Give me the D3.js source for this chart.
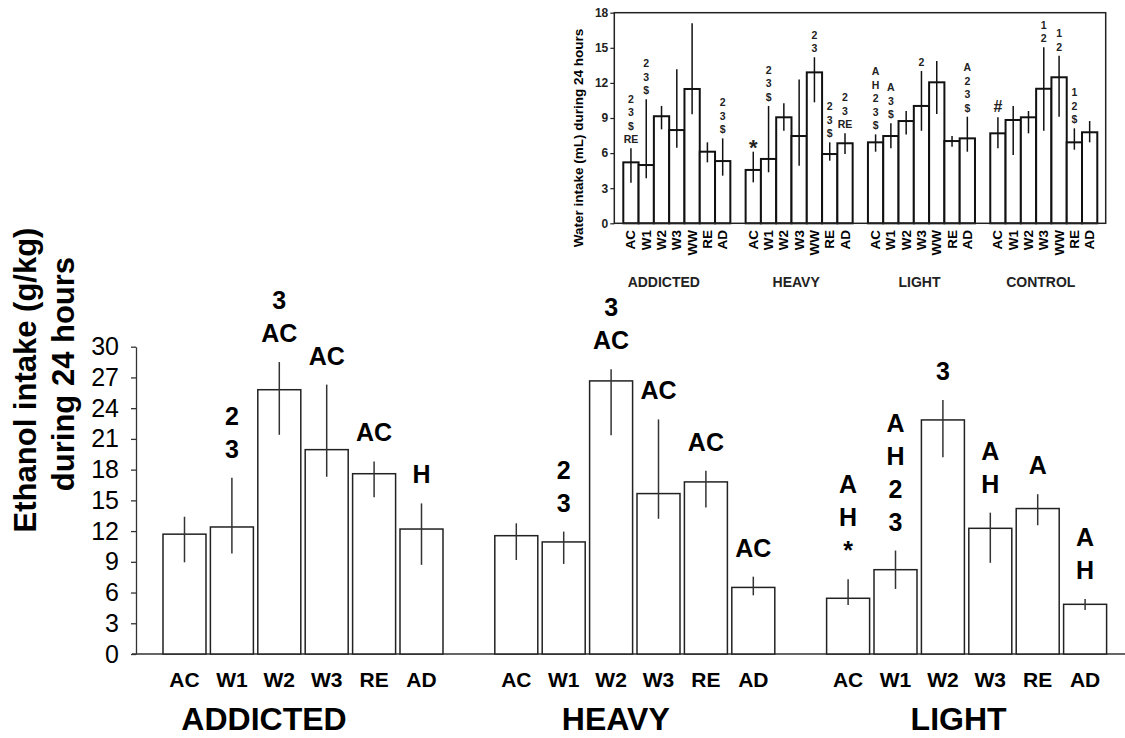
<!DOCTYPE html>
<html>
<head>
<meta charset="utf-8">
<script src="https://cdnjs.cloudflare.com/ajax/libs/d3/7.8.5/d3.min.js"></script>
<style>
    body {
        margin: 0;
        background: #fff;
    }

    svg text {
        font-family: "Liberation Sans", Arial, sans-serif;
        fill: #000;
    }

    .bar {
        fill: #fff;
        stroke: #222;
        stroke-width: 1.5px;
    }

    .err {
        stroke: #333;
        stroke-width: 1.5px;
    }

    .inset .bar {
        stroke: #111;
        stroke-width: 2px;
    }

    .inset .err {
        stroke: #111;
        stroke-width: 1.5px;
    }
</style>
</head>
<body>
<svg id="chart" width="1125" height="738"></svg>
<script>
    // ---- main chart: ethanol intake ----
    var groups = ["ADDICTED", "HEAVY", "LIGHT"];
    var phases = ["AC", "W1", "W2", "W3", "RE", "AD"];
    var ethanolMean = [
        [11.7, 12.4, 25.8, 19.95, 17.6, 12.2],
        [11.55, 10.94, 26.66, 15.66, 16.8, 6.5],
        [5.44, 8.23, 22.85, 12.27, 14.2, 4.85]
    ];
    var ethanolHigh = [
        [13.4, 17.2, 28.5, 26.3, 18.8, 14.7],
        [12.76, 11.95, 27.8, 22.9, 17.9, 7.55],
        [7.3, 10.1, 24.8, 13.8, 15.6, 5.37]
    ];
    var ethanolLow = [
        [8.95, 9.8, 21.4, 17.3, 15.3, 8.7],
        [9.18, 8.79, 21.36, 13.2, 14.3, 5.73],
        [4.79, 6.35, 19.2, 8.9, 12.57, 4.3]
    ];
    var ethanolMarks = [
        [[], ["2", "3"], ["3", "AC"], ["AC"], ["AC"], ["H"]],
        [[], ["2", "3"], ["3", "AC"], ["AC"], ["AC"], ["AC"]],
        [["A", "H", "*"], ["A", "H", "2", "3"], ["3"], ["A", "H"], ["A"], ["A", "H"]]
    ];
    var ethanolTicks = [0, 3, 6, 9, 12, 15, 18, 21, 24, 27, 30];

    // ---- inset: water intake ----
    var waterGroups = ["ADDICTED", "HEAVY", "LIGHT", "CONTROL"];
    var waterPhases = ["AC", "W1", "W2", "W3", "WW", "RE", "AD"];
    var waterMean = [
        [5.21, 4.98, 9.15, 7.97, 11.48, 6.12, 5.32],
        [4.56, 5.5, 9.06, 7.46, 12.9, 5.92, 6.84],
        [6.92, 7.46, 8.74, 10.03, 12.05, 7.03, 7.26],
        [7.69, 8.83, 9.06, 11.5, 12.48, 6.92, 7.78]
    ];
    var waterHigh = [
        [6.41, 10.6, 10.03, 13.16, 17.1, 6.92, 7.26],
        [6.12, 10.03, 10.26, 12.3, 14.19, 6.92, 7.69],
        [7.6, 8.55, 9.6, 13.02, 13.87, 7.46, 9.11],
        [9.06, 10.03, 9.6, 15.04, 14.33, 8.12, 8.74]
    ];
    var waterLow = [
        [3.47, 3.85, 8.03, 6.46, 9.32, 5.21, 4.07],
        [3.5, 4.36, 7.91, 4.92, 10.34, 5.35, 5.92],
        [6.12, 6.41, 7.6, 7.91, 9.34, 6.55, 6.12],
        [6.41, 5.84, 7.69, 7.91, 9.11, 6.29, 6.92]
    ];
    var waterMarks = [
        [["2", "3", "$", "RE"], ["2", "3", "$"], [], [], [], [], ["2", "3", "$"]],
        [["*"], ["2", "3", "$"], [], [], ["2", "3"], ["2", "3", "$"], ["2", "3", "RE"]],
        [["A", "H", "2", "3", "$"], ["A", "3", "$"], [], ["2"], [], [], ["A", "2", "3", "$"]],
        [["#"], [], [], ["1", "2"], ["1", "2"], ["1", "2", "$"], []]
    ];
    var waterTicks = [0, 3, 6, 9, 12, 15, 18];

    var svg = d3.select("#chart");

    // flatten groups x phases into one row per bar, with a spacer slot between groups
    function buildRows(gs, ps, mean, high, low, marks) {
        var rows = [], keys = [];
        gs.forEach(function (g, gi) {
            if (gi > 0) keys.push("gap" + gi);
            ps.forEach(function (p, pi) {
                var key = g + "|" + p;
                keys.push(key);
                rows.push({ key: key, group: g, gi: gi, phase: p, v: mean[gi][pi], hi: high[gi][pi], lo: low[gi][pi], marks: marks[gi][pi] });
            });
        });
        return { rows: rows, keys: keys };
    }

    // ================= main chart =================
    var main = buildRows(groups, phases, ethanolMean, ethanolHigh, ethanolLow, ethanolMarks);

    var x = d3.scaleBand()
        .domain(main.keys)
        .range([163, 1106.6])
        .paddingInner(0.093)
        .paddingOuter(0);

    var y = d3.scaleLinear().domain([0, 30]).range([654, 346.7]);

    var g = svg.append("g").attr("class", "main");

    // y axis
    var yAxis = g.append("g")
        .attr("transform", "translate(136,0)")
        .call(d3.axisLeft(y).tickValues(ethanolTicks).tickSize(5).tickSizeOuter(0).tickPadding(12));
    yAxis.selectAll("text").style("font-size", "25px").style("fill", "#000");
    yAxis.selectAll("line, path").style("stroke", "#333").style("stroke-width", "1.3px");

    // baseline
    g.append("line")
        .attr("x1", 132).attr("x2", 1125)
        .attr("y1", y(0)).attr("y2", y(0))
        .style("stroke", "#333").style("stroke-width", "1.5px");

    // bars
    g.selectAll("rect.bar")
        .data(main.rows)
        .enter().append("rect")
        .attr("class", "bar")
        .attr("x", function (d) { return x(d.key); })
        .attr("y", function (d) { return y(d.v); })
        .attr("width", x.bandwidth())
        .attr("height", function (d) { return y(0) - y(d.v); });

    // error bars
    g.selectAll("line.err")
        .data(main.rows)
        .enter().append("line")
        .attr("class", "err")
        .attr("x1", function (d) { return x(d.key) + x.bandwidth() / 2; })
        .attr("x2", function (d) { return x(d.key) + x.bandwidth() / 2; })
        .attr("y1", function (d) { return y(d.hi); })
        .attr("y2", function (d) { return y(d.lo); });

    // significance marks, stacked upward from the error bar top
    var mainStep = 33, mainGap = 20;
    main.rows.forEach(function (d) {
        var n = d.marks.length;
        d.marks.forEach(function (m, i) {
            g.append("text")
                .attr("x", x(d.key) + x.bandwidth() / 2)
                .attr("y", y(d.hi) - mainGap - (n - 1 - i) * mainStep)
                .attr("text-anchor", "middle")
                .style("font-size", "25px")
                .style("font-weight", "bold")
                .text(m);
        });
    });

    // category labels
    g.selectAll("text.cat")
        .data(main.rows)
        .enter().append("text")
        .attr("class", "cat")
        .attr("x", function (d) { return x(d.key) + x.bandwidth() / 2; })
        .attr("y", 687)
        .attr("text-anchor", "middle")
        .style("font-size", "21px")
        .style("font-weight", "bold")
        .text(function (d) { return d.phase; });

    // group labels
    var mainGroupDx = [-39, -19, -8];
    groups.forEach(function (grp, gi) {
        var x0 = x(grp + "|" + phases[0]);
        var x1 = x(grp + "|" + phases[phases.length - 1]) + x.bandwidth();
        g.append("text")
            .attr("x", (x0 + x1) / 2 + mainGroupDx[gi])
            .attr("y", 730)
            .attr("text-anchor", "middle")
            .style("font-size", "32px")
            .style("font-weight", "bold")
            .text(grp);
    });

    // y title
    g.append("text")
        .attr("transform", "translate(36,380) rotate(-90)")
        .attr("text-anchor", "middle")
        .style("font-size", "31px")
        .style("font-weight", "bold")
        .text("Ethanol intake (g/kg)");
    g.append("text")
        .attr("transform", "translate(74,374) rotate(-90)")
        .attr("text-anchor", "middle")
        .style("font-size", "31px")
        .style("font-weight", "bold")
        .text("during 24 hours");

    // ================= inset =================
    var ins = buildRows(waterGroups, waterPhases, waterMean, waterHigh, waterLow, waterMarks);

    var xi = d3.scaleBand()
        .domain(ins.keys)
        .range([623.3, 1097.3])
        .padding(0);

    var yi = d3.scaleLinear().domain([0, 18]).range([223.3, 12.7]);

    var gi = svg.append("g").attr("class", "inset");

    var yiAxis = gi.append("g")
        .attr("transform", "translate(614.3,0)")
        .call(d3.axisLeft(yi).tickValues(waterTicks).tickSize(4).tickSizeOuter(0).tickPadding(2));
    yiAxis.select("path.domain").remove();
    yiAxis.selectAll("text").style("font-size", "12px").style("font-weight", "bold").style("fill", "#222");
    yiAxis.selectAll("line").style("stroke", "#222").style("stroke-width", "1.2px");

    gi.selectAll("rect.bar")
        .data(ins.rows)
        .enter().append("rect")
        .attr("class", "bar")
        .attr("x", function (d) { return xi(d.key); })
        .attr("y", function (d) { return yi(d.v); })
        .attr("width", xi.bandwidth())
        .attr("height", function (d) { return yi(0) - yi(d.v); });

    gi.selectAll("line.err")
        .data(ins.rows)
        .enter().append("line")
        .attr("class", "err")
        .attr("x1", function (d) { return xi(d.key) + xi.bandwidth() / 2; })
        .attr("x2", function (d) { return xi(d.key) + xi.bandwidth() / 2; })
        .attr("y1", function (d) { return yi(d.hi); })
        .attr("y2", function (d) { return yi(d.lo); });

    // frame
    gi.append("rect")
        .attr("x", 614.3).attr("y", yi(18))
        .attr("width", 1105.7 - 614.3).attr("height", yi(0) - yi(18))
        .style("fill", "none").style("stroke", "#222").style("stroke-width", "1.5px");

    var insStep = 13.5, insGap = 5;
    ins.rows.forEach(function (d) {
        var n = d.marks.length;
        d.marks.forEach(function (m, i) {
            var big = (m === "*" || m === "#");
            gi.append("text")
                .attr("x", xi(d.key) + xi.bandwidth() / 2)
                .attr("y", yi(d.hi) - insGap - (n - 1 - i) * insStep + (m === "*" ? 8 : 0))
                .attr("text-anchor", "middle")
                .style("font-size", big ? (m === "*" ? "22px" : "16px") : "10.5px")
                .style("font-weight", "bold")
                .style("fill", "#222")
                .text(m);
        });
    });

    gi.selectAll("text.cat")
        .data(ins.rows)
        .enter().append("text")
        .attr("class", "cat")
        .attr("transform", function (d) {
            return "translate(" + (xi(d.key) + xi.bandwidth() / 2 + 4.5) + ",230) rotate(-90)";
        })
        .attr("text-anchor", "end")
        .style("font-size", "13.5px")
        .style("font-weight", "bold")
        .text(function (d) { return d.phase; });

    var insGroupDx = [-13, -3, -2, -3];
    waterGroups.forEach(function (grp, k) {
        var x0 = xi(grp + "|" + waterPhases[0]);
        var x1 = xi(grp + "|" + waterPhases[waterPhases.length - 1]) + xi.bandwidth();
        gi.append("text")
            .attr("x", (x0 + x1) / 2 + insGroupDx[k])
            .attr("y", 287)
            .attr("text-anchor", "middle")
            .style("font-size", "14px")
            .style("font-weight", "bold")
            .style("fill", "#222")
            .text(grp);
    });

    gi.append("text")
        .attr("transform", "translate(583,138) rotate(-90)")
        .attr("text-anchor", "middle")
        .style("font-size", "13.5px")
        .style("font-weight", "bold")
        .text("Water intake (mL) during 24 hours");
</script>
</body>
</html>
